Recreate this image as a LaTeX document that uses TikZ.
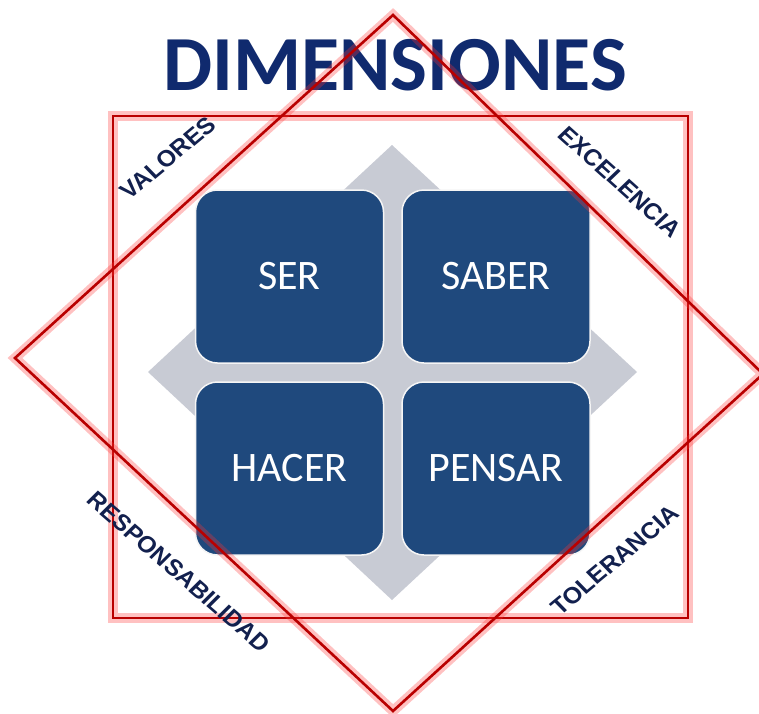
\documentclass[tikz,border=0pt]{standalone}
\usepackage{fontspec}
\setmainfont{Carlito}
\newfontfamily\wordart{Liberation Sans}
\usepackage{tikz}

\definecolor{boxblue}{RGB}{31,73,125}
\definecolor{titleblue}{RGB}{16,42,110}
\definecolor{labelblue}{RGB}{18,32,78}
\definecolor{crossgray}{RGB}{200,203,212}
\definecolor{framered}{RGB}{185,0,0}

\tikzset{
  redframe/.style={draw=framered, line width=2.6pt, line join=miter,
    preaction={draw=red!80, line width=10pt, opacity=.3}},
  dimbox/.style={rounded corners=22pt, fill=boxblue, draw=white!92!gray,
    line width=1.5pt, minimum width=188pt, minimum height=173pt,
    text=white, font=\fontsize{42}{42}\selectfont},
  valuelabel/.style={text=labelblue, xscale=1.08,
    font=\wordart\bfseries\fontsize{23}{23}\selectfont}
}

\begin{document}
\begin{tikzpicture}[x=1pt, y=-1pt]

    \clip (0,0) rectangle (759,713);
    \fill[white] (0,0) rectangle (759,713);

    % Gray cross behind the boxes
    \fill[crossgray] (392,145) -- (637,372) -- (392,600) -- (148,372) -- cycle;

    % Four dimensions
    \node[dimbox] (ser) at (289.5,276.5) {SER};
    \node[dimbox] (saber) at (496,276.5) {SABER};
    \node[dimbox] (hacer) at (289.5,468.5) {HACER};
    \node[dimbox] (pensar) at (496,468.5) {PENSAR};

    % Title
    \node[anchor=base, text=titleblue, font=\bfseries\fontsize{78}{78}\selectfont] (title) at (395,90) {DIMENSIONES};

    % Red square and red diamond
    \coordinate (top) at (393,15);
    \coordinate (right) at (763,374);
    \coordinate (bottom) at (393,711);
    \coordinate (left) at (15,358);
    \path[redframe] (113,116) rectangle (688,618);
    \path[redframe] (top) -- (right) -- (bottom) -- (left) -- cycle;

    % Values in the corners
    \node[valuelabel, rotate=42] (valores) at (168,158) {VALORES};
    \node[valuelabel, rotate=-44] (excelencia) at (620,182) {EXCELENCIA};
    \node[valuelabel, rotate=-43] (responsabilidad) at (179,572) {RESPONSABILIDAD};
    \node[valuelabel, rotate=42] (tolerancia) at (615,560) {TOLERANCIA};

\end{tikzpicture}
\end{document}
